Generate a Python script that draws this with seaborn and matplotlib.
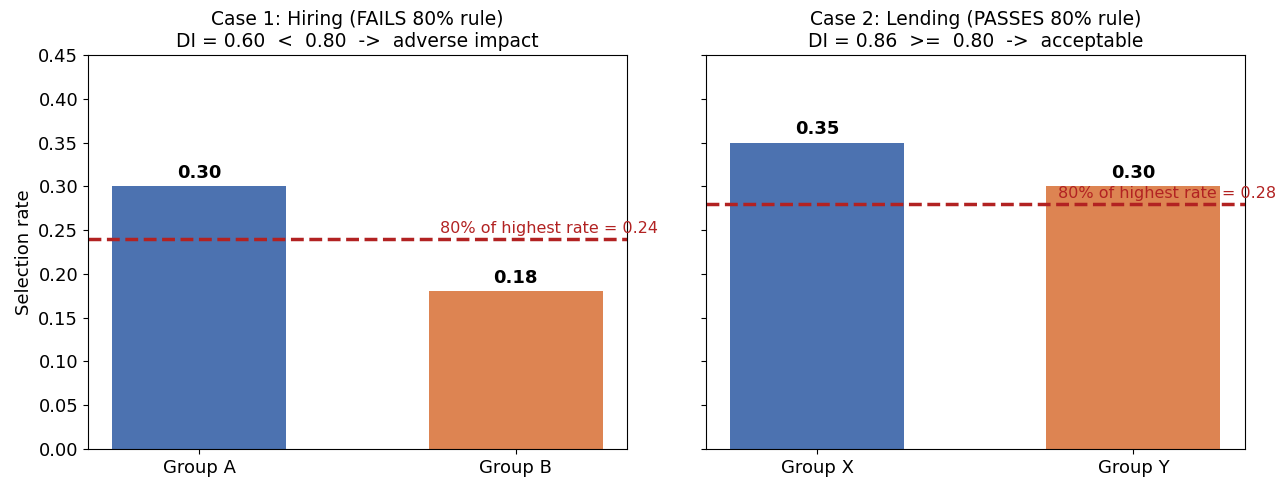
import numpy as np
import pandas as pd
import matplotlib
matplotlib.use("Agg")
import matplotlib.pyplot as plt
import seaborn as sns

# selection rates for the two cases
hiring_groups = ["Group A", "Group B"]
hiring_rates = [0.30, 0.18]
lending_groups = ["Group X", "Group Y"]
lending_rates = [0.35, 0.30]

titles = [
    "Case 1: Hiring (FAILS 80% rule)\nDI = 0.60  <  0.80  ->  adverse impact",
    "Case 2: Lending (PASSES 80% rule)\nDI = 0.86  >=  0.80  ->  acceptable",
]
colors = ["#4C72B0", "#DD8452"]

fig, axes = plt.subplots(1, 2, figsize=(12.86, 4.83), dpi=100, sharey=True)
fig.subplots_adjust(left=0.0684, right=0.968, top=0.886, bottom=0.0704, wspace=0.146)

cases = [(hiring_groups, hiring_rates), (lending_groups, lending_rates)]
for ax, (groups, rates), title in zip(axes, cases, titles):
    df = pd.DataFrame({"group": groups, "rate": rates})
    sns.barplot(data=df, x="group", y="rate", hue="group", palette=colors,
                width=0.55, saturation=1, legend=False, ax=ax)

    # value labels on top of bars
    for i, r in enumerate(rates):
        ax.text(i, r + 0.005, f"{r:.2f}", ha="center", va="bottom",
                fontsize=13, fontweight="bold")

    # four-fifths threshold
    thr = 0.8 * max(rates)
    ax.axhline(thr, color="#B22222", linestyle="--", linewidth=2.5)
    ax.text(1.45, thr + 0.003, f"80% of highest rate = {thr:.2f}", ha="right",
            va="bottom", color="#B22222", fontsize=11.5)

    ax.set_title(title, fontsize=13.5)
    ax.set_xlabel("")
    ax.set_ylabel("Selection rate", fontsize=13)
    ax.set_xlim(-0.3525, 1.3525)
    ax.set_ylim(0, 0.45)
    ax.set_yticks(np.arange(0, 0.451, 0.05))
    ax.tick_params(labelsize=13)

axes[1].yaxis.set_tick_params(labelleft=False)

fig.savefig("out.png", dpi=100)
